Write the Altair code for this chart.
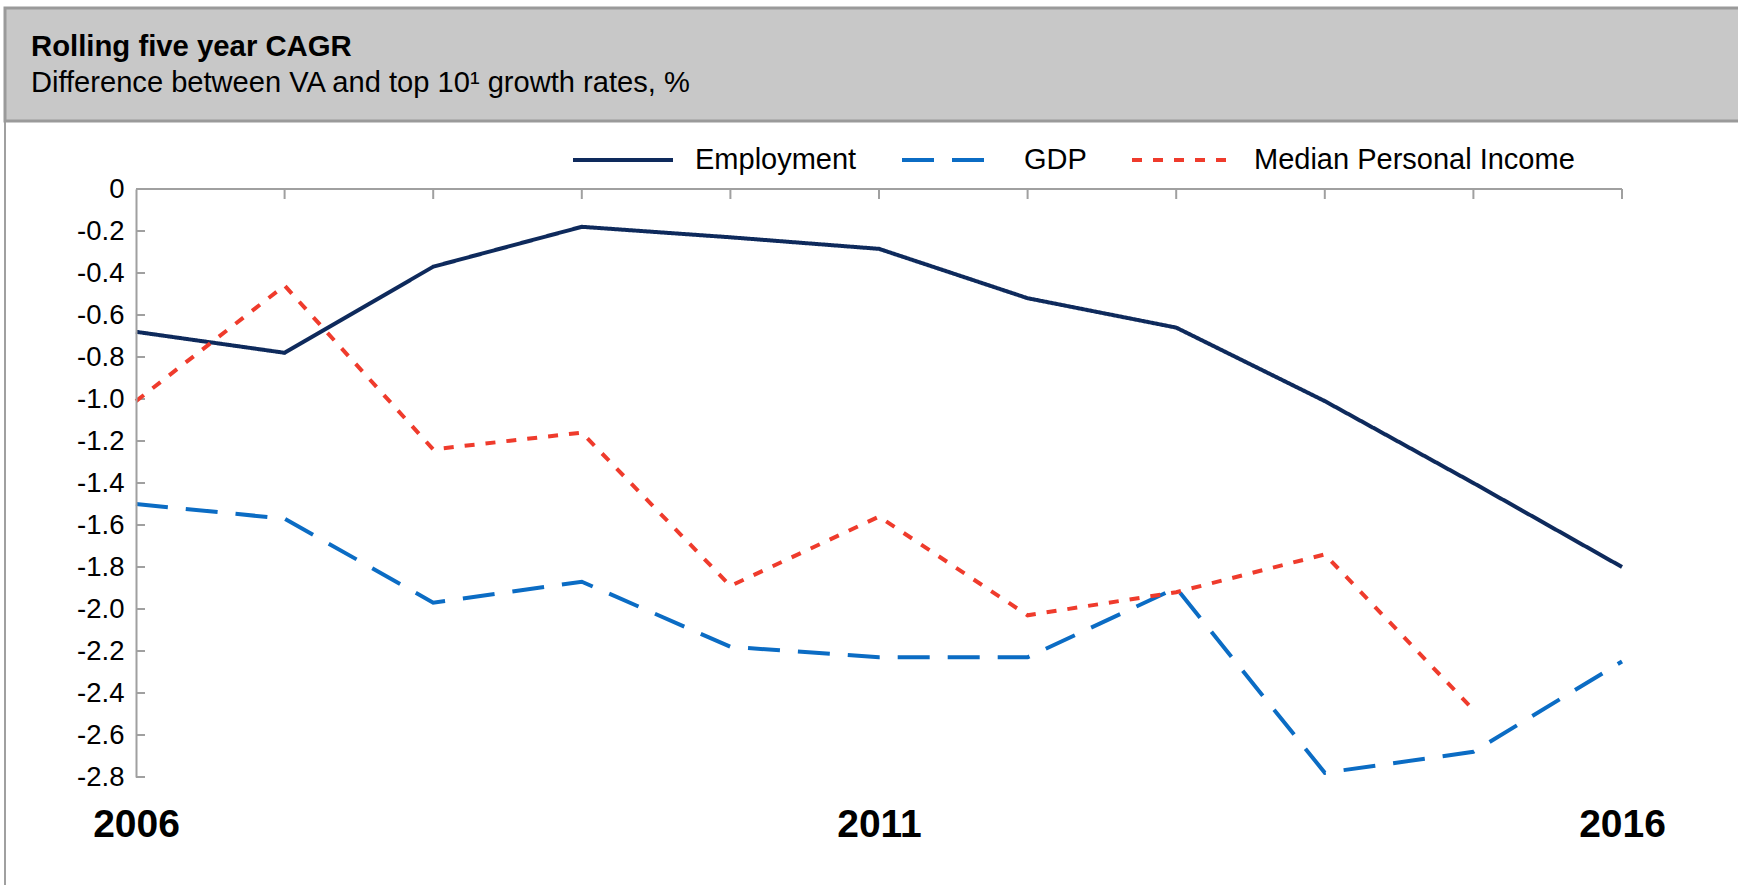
import altair as alt
import pandas as pd

# ---------------- data ----------------
YEARS = [2006, 2007, 2008, 2009, 2010, 2011, 2012, 2013, 2014, 2015, 2016]
EMPLOYMENT = [-0.68, -0.78, -0.37, -0.18, -0.23, -0.285, -0.52, -0.66, -1.01, -1.40, -1.80]
GDP = [-1.50, -1.57, -1.97, -1.87, -2.18, -2.23, -2.23, -1.90, -2.78, -2.68, -2.25]
MEDIAN_INCOME = [-1.01, -0.46, -1.24, -1.16, -1.89, -1.56, -2.03, -1.92, -1.74, -2.48]  # no 2016 value

SERIES = ["Employment", "GDP", "Median Personal Income"]
COLORS = ["#0e2a5c", "#0b6cc4", "#ef3b2c"]
DASHES = [[1, 0], [32, 18], [10, 11]]

Y_TICKS = [0, -0.2, -0.4, -0.6, -0.8, -1.0, -1.2, -1.4, -1.6, -1.8, -2.0, -2.2, -2.4, -2.6, -2.8]
X_TICK_YEARS = [2007, 2008, 2009, 2010, 2011, 2012, 2013, 2014, 2015, 2016]
X_LABEL_YEARS = [2006, 2011, 2016]

TITLE = "Rolling five year CAGR"
SUBTITLE = "Difference between VA and top 10\u00b9 growth rates, %"

FONT = "Liberation Sans, Arial, Helvetica, sans-serif"
AXIS_GRAY = "#a0a0a0"

# ---------------- layout ----------------
W, H = 1486, 588
PAD = {"left": 136, "top": 189, "right": 116, "bottom": 108}

rows = []
for name, vals in zip(SERIES, [EMPLOYMENT, GDP, MEDIAN_INCOME]):
    for yr, v in zip(YEARS, vals):
        rows.append({"year": yr, "value": v, "series": name})
df = pd.DataFrame(rows)

x_enc = alt.X(
    "year:Q",
    scale=alt.Scale(domain=[2006, 2016], nice=False, zero=False),
    axis=alt.Axis(
        values=X_LABEL_YEARS, format="d", labelFont=FONT, labelFontSize=39,
        labelFontWeight="bold", labelColor="black", labelPadding=28,
        domain=False, ticks=False, grid=False, title=None, labelFlush=False,
        zindex=1,
    ),
)
y_enc = alt.Y(
    "value:Q",
    scale=alt.Scale(domain=[-2.8, 0], nice=False, zero=False),
    axis=alt.Axis(
        values=Y_TICKS,
        labelExpr="datum.value == 0 ? '0' : replace(format(datum.value, '.1f'), '\u2212', '-')",
        labelFont=FONT, labelFontSize=27.5, labelColor="black", labelPadding=12,
        domain=True, domainColor=AXIS_GRAY, domainWidth=2, ticks=False, grid=False,
        title=None, zindex=1,
    ),
)

legend = alt.Legend(
    title=None, orient="none", legendX=435, legendY=-81, direction="horizontal",
    symbolType="stroke", symbolSize=10000, symbolStrokeWidth=4,
    labelFont=FONT, labelFontSize=29, labelColor="black", labelOffset=20,
    columnPadding=37, padding=0, labelLimit=500,
)

lines = alt.Chart(df).mark_line(strokeWidth=4).encode(
    x=x_enc,
    y=y_enc,
    color=alt.Color("series:N", scale=alt.Scale(domain=SERIES, range=COLORS), legend=legend),
    strokeDash=alt.StrokeDash("series:N", scale=alt.Scale(domain=SERIES, range=DASHES), legend=legend),
)

one = pd.DataFrame({"k": [0]})

frame = alt.Chart(one).mark_rect(fillOpacity=0, stroke=AXIS_GRAY, strokeWidth=2).encode(
    x=alt.value(-131), x2=alt.value(1700), y=alt.value(-181), y2=alt.value(800)
)
header = alt.Chart(one).mark_rect(fill="#c8c8c8", stroke="#9a9a9a", strokeWidth=3).encode(
    x=alt.value(-131), x2=alt.value(1700), y=alt.value(-181), y2=alt.value(-68)
)
title_txt = alt.Chart(pd.DataFrame({"t": [TITLE]})).mark_text(
    align="left", baseline="alphabetic", font=FONT, fontSize=29.3, fontWeight="bold", color="black"
).encode(x=alt.value(-105), y=alt.value(-133), text="t:N")
subtitle_txt = alt.Chart(pd.DataFrame({"t": [SUBTITLE]})).mark_text(
    align="left", baseline="alphabetic", font=FONT, fontSize=29.1, color="black"
).encode(x=alt.value(-105), y=alt.value(-97), text="t:N")

top_line = alt.Chart(one).mark_rule(color=AXIS_GRAY, strokeWidth=2).encode(
    x=alt.value(0), x2=alt.value(W), y=alt.value(0)
)
x_ticks = alt.Chart(pd.DataFrame({"year": X_TICK_YEARS})).mark_rule(color=AXIS_GRAY, strokeWidth=2).encode(
    x=x_enc, y=alt.value(0), y2=alt.value(10)
)
y_ticks = alt.Chart(pd.DataFrame({"value": Y_TICKS})).mark_rule(color=AXIS_GRAY, strokeWidth=2).encode(
    y=y_enc, x=alt.value(0), x2=alt.value(9)
)

chart = alt.layer(
    frame, header, title_txt, subtitle_txt, top_line, x_ticks, y_ticks, lines
).properties(
    width=W, height=H,
    autosize=alt.AutoSizeParams(type="none"),
    padding=PAD,
    background="white",
).configure_view(strokeWidth=0)

chart.save("out.html", embed_options={"renderer": "svg", "actions": False})
